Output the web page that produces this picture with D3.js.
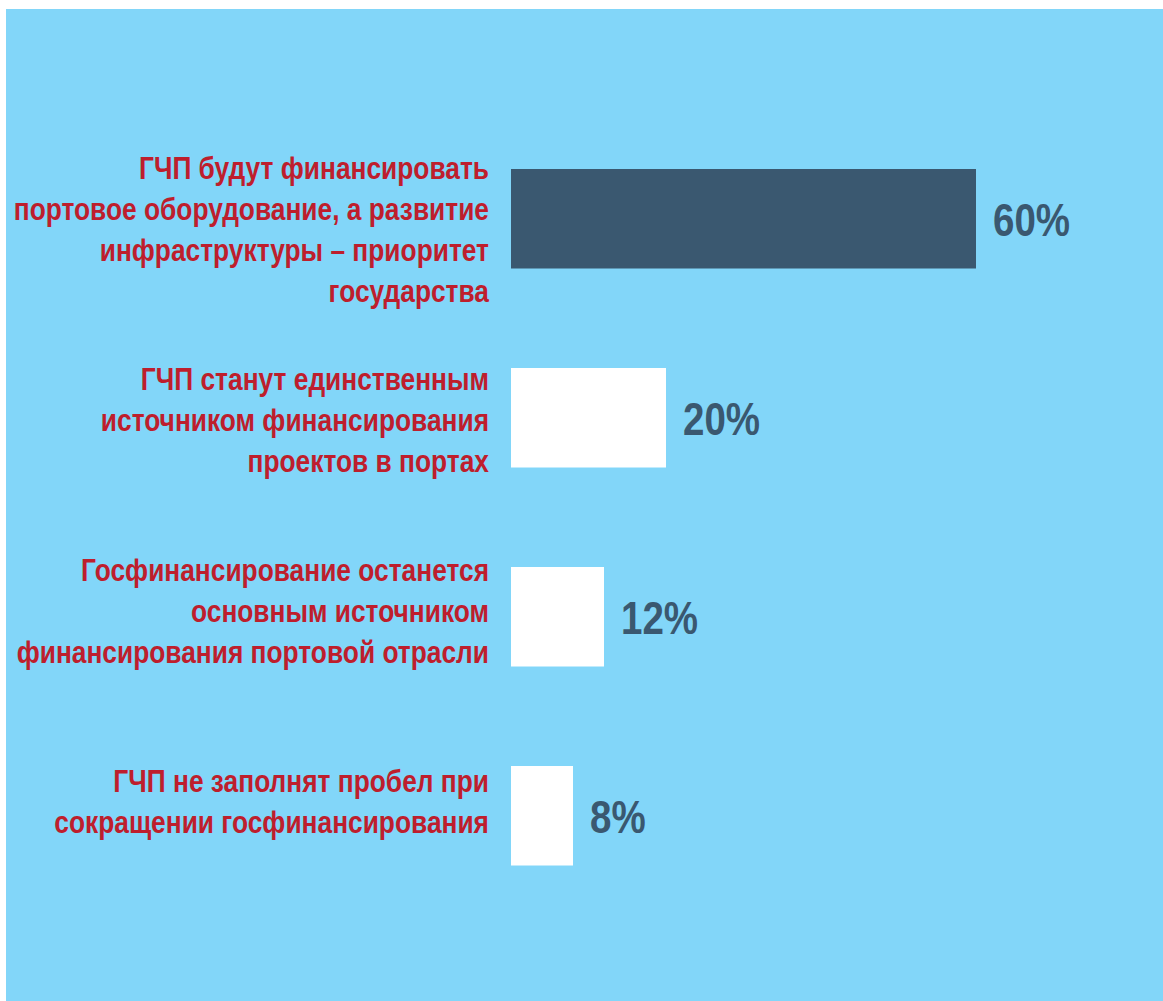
<!DOCTYPE html>
<html>
<head>
<meta charset="utf-8">
<script src="https://cdn.jsdelivr.net/npm/d3@7"></script>
<style>
  html, body { margin: 0; padding: 0; background: #fff; }
  svg { display: block; }
  .lbl { font-family: "Liberation Sans", Arial, sans-serif; font-weight: bold; }
</style>
</head>
<body>
<div id="chart"></div>
<script>
// answers, one line of text per row of the label
const categories = [
  ["ГЧП будут финансировать", "портовое оборудование, а развитие", "инфраструктуры – приоритет", "государства"],
  ["ГЧП станут единственным", "источником финансирования", "проектов в портах"],
  ["Госфинансирование останется", "основным источником", "финансирования портовой отрасли"],
  ["ГЧП не заполнят пробел при", "сокращении госфинансирования"]
];
const values = [60, 20, 12, 8];

const width = 1163;
const height = 1001;
const bgColor = "#82d6f9";
const barDark = "#3a5870";
const labelRed = "#be1e2d";
const valueColor = "#3a5870";
// Arial Narrow is not available, so squeeze Liberation Sans Bold instead
const narrowValue = 0.82;
const narrowLabel = 0.85;

const svg = d3.select("#chart").append("svg")
  .attr("width", width)
  .attr("height", height);

svg.append("rect")
  .attr("x", 6)
  .attr("y", 9)
  .attr("width", width - 6)
  .attr("height", height - 9)
  .attr("fill", bgColor);

const x = d3.scaleLinear()
  .domain([0, 60])
  .range([511, 976]);

const y = d3.scaleBand()
  .domain(d3.range(values.length))
  .range([69.5, 965])
  .paddingInner(0.5)
  .paddingOuter(0.5);

// the category text sits on its own, slightly tighter, axis
const yLabel = d3.scalePoint()
  .domain(d3.range(categories.length))
  .range([229, 801.5]);

const maxValue = d3.max(values);

svg.append("g")
  .selectAll("rect")
  .data(values)
  .join("rect")
  .attr("x", x(0))
  .attr("y", (d, i) => y(i))
  .attr("width", d => x(d) - x(0))
  .attr("height", y.bandwidth())
  .attr("fill", d => d === maxValue ? barDark : "#ffffff");

// value labels
svg.append("g")
  .selectAll("g")
  .data(values)
  .join("g")
  .attr("transform", (d, i) => `translate(${x(d) + 17}, ${y(i) + y.bandwidth() / 2}) scale(${narrowValue}, 1)`)
  .append("text")
  .attr("class", "lbl")
  .attr("dy", "0.36em")
  .attr("font-size", 47)
  .attr("fill", valueColor)
  .text(d => d + "%");

// category labels, right aligned to the left of the bars
const lineHeight = 41;
const labels = svg.append("g")
  .selectAll("g")
  .data(categories)
  .join("g")
  .attr("transform", (d, i) => `translate(489, ${yLabel(i)}) scale(${narrowLabel}, 1)`)
  .append("text")
  .attr("class", "lbl")
  .attr("text-anchor", "end")
  .attr("font-size", 31)
  .attr("fill", labelRed);

labels.each(function(lines) {
  const first = -(lines.length - 1) * lineHeight / 2;
  d3.select(this).selectAll("tspan")
    .data(lines)
    .join("tspan")
    .attr("x", 0)
    .attr("y", (d, j) => first + j * lineHeight)
    .attr("dy", "0.36em")
    .text(d => d);
});
</script>
</body>
</html>
